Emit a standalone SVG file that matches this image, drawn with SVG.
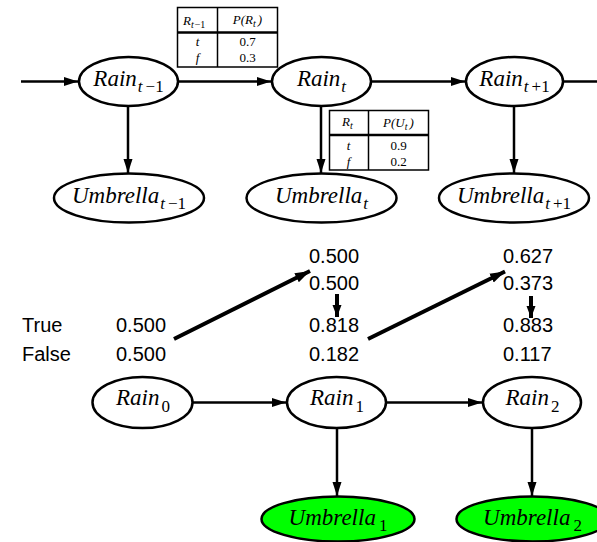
<svg xmlns="http://www.w3.org/2000/svg" width="597" height="542" viewBox="0 0 597 542">
<style>
.node{fill:#fff;stroke:#000;stroke-width:2.5}
.obs{fill:#00ff00;stroke:#000;stroke-width:2.5}
.lbl{font-family:'Liberation Serif','DejaVu Serif',serif;font-style:italic;font-size:23px;fill:#000}
.sub{font-size:17px}
.up{font-style:normal}
.edge{stroke:#000;stroke-width:2.5;fill:none}
.thick{stroke:#000;stroke-width:4;fill:none}
.num{font-family:'Liberation Sans',Arial,sans-serif;font-size:20px;fill:#000}
.tab{fill:#fff;stroke:#000;stroke-width:1.5}
.tt{font-family:'Liberation Serif','DejaVu Serif',serif;font-size:13px;fill:#000}
.ti{font-style:italic}
</style>
<defs>
<marker id="ah" markerUnits="userSpaceOnUse" markerWidth="15" markerHeight="10" refX="14" refY="5" orient="auto">
<path d="M0,0.5 L14,5 L0,9.5 z" fill="#000"/>
</marker>
<marker id="ahb" markerUnits="userSpaceOnUse" markerWidth="16" markerHeight="12" refX="15" refY="6" orient="auto">
<path d="M0,1 L15,6 L0,11 z" fill="#000"/>
</marker>
<marker id="ahs" markerUnits="userSpaceOnUse" markerWidth="12" markerHeight="10" refX="12" refY="5" orient="auto">
<path d="M0,0.5 L12,5 L0,9.5 z" fill="#000"/>
</marker>
</defs>

<g id="connectors">
<line class="edge" x1="21" y1="81.5" x2="78" y2="81.5" marker-end="url(#ah)"/>
<line class="edge" x1="178" y1="81.5" x2="271" y2="81.5" marker-end="url(#ah)"/>
<line class="edge" x1="371" y1="81.5" x2="465" y2="81.5" marker-end="url(#ah)"/>
<line class="edge" x1="563" y1="81.5" x2="597" y2="81.5"/>
<line class="edge" x1="128" y1="106" x2="128" y2="173" marker-end="url(#ah)"/>
<line class="edge" x1="321" y1="106" x2="321" y2="173" marker-end="url(#ah)"/>
<line class="edge" x1="514" y1="106" x2="514" y2="173" marker-end="url(#ah)"/>
<line class="thick" x1="174" y1="339" x2="310" y2="271" marker-end="url(#ahb)"/>
<line class="thick" x1="368" y1="339" x2="505" y2="271.5" marker-end="url(#ahb)"/>
<line class="thick" x1="337" y1="294" x2="337" y2="317" marker-end="url(#ahs)"/>
<line class="thick" x1="531" y1="296" x2="531" y2="318" marker-end="url(#ahs)"/>
<line class="edge" x1="192" y1="402.5" x2="286" y2="402.5" marker-end="url(#ah)"/>
<line class="edge" x1="386" y1="402.5" x2="482" y2="402.5" marker-end="url(#ah)"/>
<line class="edge" x1="337" y1="428" x2="337" y2="496" marker-end="url(#ah)"/>
<line class="edge" x1="532" y1="428" x2="532" y2="496" marker-end="url(#ah)"/>
</g>

<g id="rain_tm1">
<ellipse class="node" cx="128.5" cy="81.5" rx="49.5" ry="24.5"/>
<text class="lbl" x="128.5" y="86" text-anchor="middle">Rain<tspan class="sub" dy="6" dx="1">t</tspan><tspan class="sub up" dx="3">−1</tspan></text>
</g>
<g id="rain_t">
<ellipse class="node" cx="321.5" cy="81.5" rx="49.5" ry="24.5"/>
<text class="lbl" x="321.5" y="86" text-anchor="middle">Rain<tspan class="sub" dy="6" dx="1">t</tspan></text>
</g>
<g id="rain_tp1">
<ellipse class="node" cx="514.5" cy="81.5" rx="48.5" ry="24.5"/>
<text class="lbl" x="514.5" y="86" text-anchor="middle">Rain<tspan class="sub" dy="6" dx="1">t</tspan><tspan class="sub up" dx="3">+1</tspan></text>
</g>
<g id="umb_tm1">
<ellipse class="node" cx="129" cy="198" rx="75" ry="24.5"/>
<text class="lbl" x="129" y="203" text-anchor="middle">Umbrella<tspan class="sub" dy="6" dx="1">t</tspan><tspan class="sub up" dx="3">−1</tspan></text>
</g>
<g id="umb_t">
<ellipse class="node" cx="321.5" cy="198" rx="75" ry="24.5"/>
<text class="lbl" x="321.5" y="203" text-anchor="middle">Umbrella<tspan class="sub" dy="6" dx="1">t</tspan></text>
</g>
<g id="umb_tp1">
<ellipse class="node" cx="514" cy="198" rx="75" ry="24.5"/>
<text class="lbl" x="514" y="203" text-anchor="middle">Umbrella<tspan class="sub" dy="6" dx="1">t</tspan><tspan class="sub up" dx="3">+1</tspan></text>
</g>

<g id="cpt_rain">
<rect class="tab" x="177.5" y="7.5" width="100" height="59.5"/>
<line stroke="#000" stroke-width="1.5" x1="217.5" y1="7.5" x2="217.5" y2="67"/>
<line stroke="#000" stroke-width="2.5" x1="177.5" y1="32.5" x2="277.5" y2="32.5"/>
<text class="tt ti" x="183" y="25" font-size="14">R<tspan font-size="10" dy="3">t</tspan><tspan font-size="10" font-style="normal" dx="1">−1</tspan></text>
<text class="tt ti" x="247.5" y="24" text-anchor="middle" font-size="14">P(R<tspan font-size="10" dy="3">t</tspan><tspan dy="-3" dx="2">)</tspan></text>
<text class="tt ti" x="197.5" y="46" text-anchor="middle">t</text>
<text class="tt ti" x="197.5" y="62" text-anchor="middle">f</text>
<text class="tt" x="247.5" y="46" text-anchor="middle">0.7</text>
<text class="tt" x="247.5" y="62" text-anchor="middle">0.3</text>
</g>
<g id="cpt_umb">
<rect class="tab" x="329.5" y="110.5" width="99" height="59.5"/>
<line stroke="#000" stroke-width="1.5" x1="368.5" y1="110.5" x2="368.5" y2="170"/>
<line stroke="#000" stroke-width="2.5" x1="329.5" y1="135" x2="428.5" y2="135"/>
<text class="tt ti" x="342" y="126" font-size="14">R<tspan font-size="10" dy="3">t</tspan></text>
<text class="tt ti" x="398.5" y="127" text-anchor="middle" font-size="14">P(U<tspan font-size="10" dy="3">t</tspan><tspan dy="-3" dx="2">)</tspan></text>
<text class="tt ti" x="348.5" y="150" text-anchor="middle">t</text>
<text class="tt ti" x="348.5" y="166" text-anchor="middle">f</text>
<text class="tt" x="398.5" y="150" text-anchor="middle">0.9</text>
<text class="tt" x="398.5" y="166" text-anchor="middle">0.2</text>
</g>

<g id="values">
<text class="num" x="22" y="332">True</text>
<text class="num" x="22" y="361">False</text>
<text class="num" x="116" y="332">0.500</text>
<text class="num" x="116" y="361">0.500</text>
<text class="num" x="309" y="263">0.500</text>
<text class="num" x="309" y="290">0.500</text>
<text class="num" x="309" y="332">0.818</text>
<text class="num" x="309" y="361">0.182</text>
<text class="num" x="503" y="263">0.627</text>
<text class="num" x="503" y="290">0.373</text>
<text class="num" x="503" y="332">0.883</text>
<text class="num" x="503" y="361">0.117</text>
</g>

<g id="rain0">
<ellipse class="node" cx="142.5" cy="402.5" rx="50" ry="25.5"/>
<text class="lbl" x="143" y="405" text-anchor="middle">Rain<tspan class="sub up" dy="7" dx="2">0</tspan></text>
</g>
<g id="rain1">
<ellipse class="node" cx="336.5" cy="402.5" rx="49.5" ry="25.5"/>
<text class="lbl" x="337" y="405" text-anchor="middle">Rain<tspan class="sub up" dy="7" dx="2">1</tspan></text>
</g>
<g id="rain2">
<ellipse class="node" cx="532" cy="402.5" rx="49" ry="25.5"/>
<text class="lbl" x="532.5" y="405" text-anchor="middle">Rain<tspan class="sub up" dy="7" dx="2">2</tspan></text>
</g>
<g id="umb1">
<ellipse class="obs" cx="338" cy="519" rx="76.5" ry="22.5"/>
<text class="lbl" x="338" y="525" text-anchor="middle">Umbrella<tspan class="sub up" dy="6" dx="3">1</tspan></text>
</g>
<g id="umb2">
<ellipse class="obs" cx="532.5" cy="519" rx="76" ry="22.5"/>
<text class="lbl" x="532.5" y="525" text-anchor="middle">Umbrella<tspan class="sub up" dy="6" dx="3">2</tspan></text>
</g>
</svg>
